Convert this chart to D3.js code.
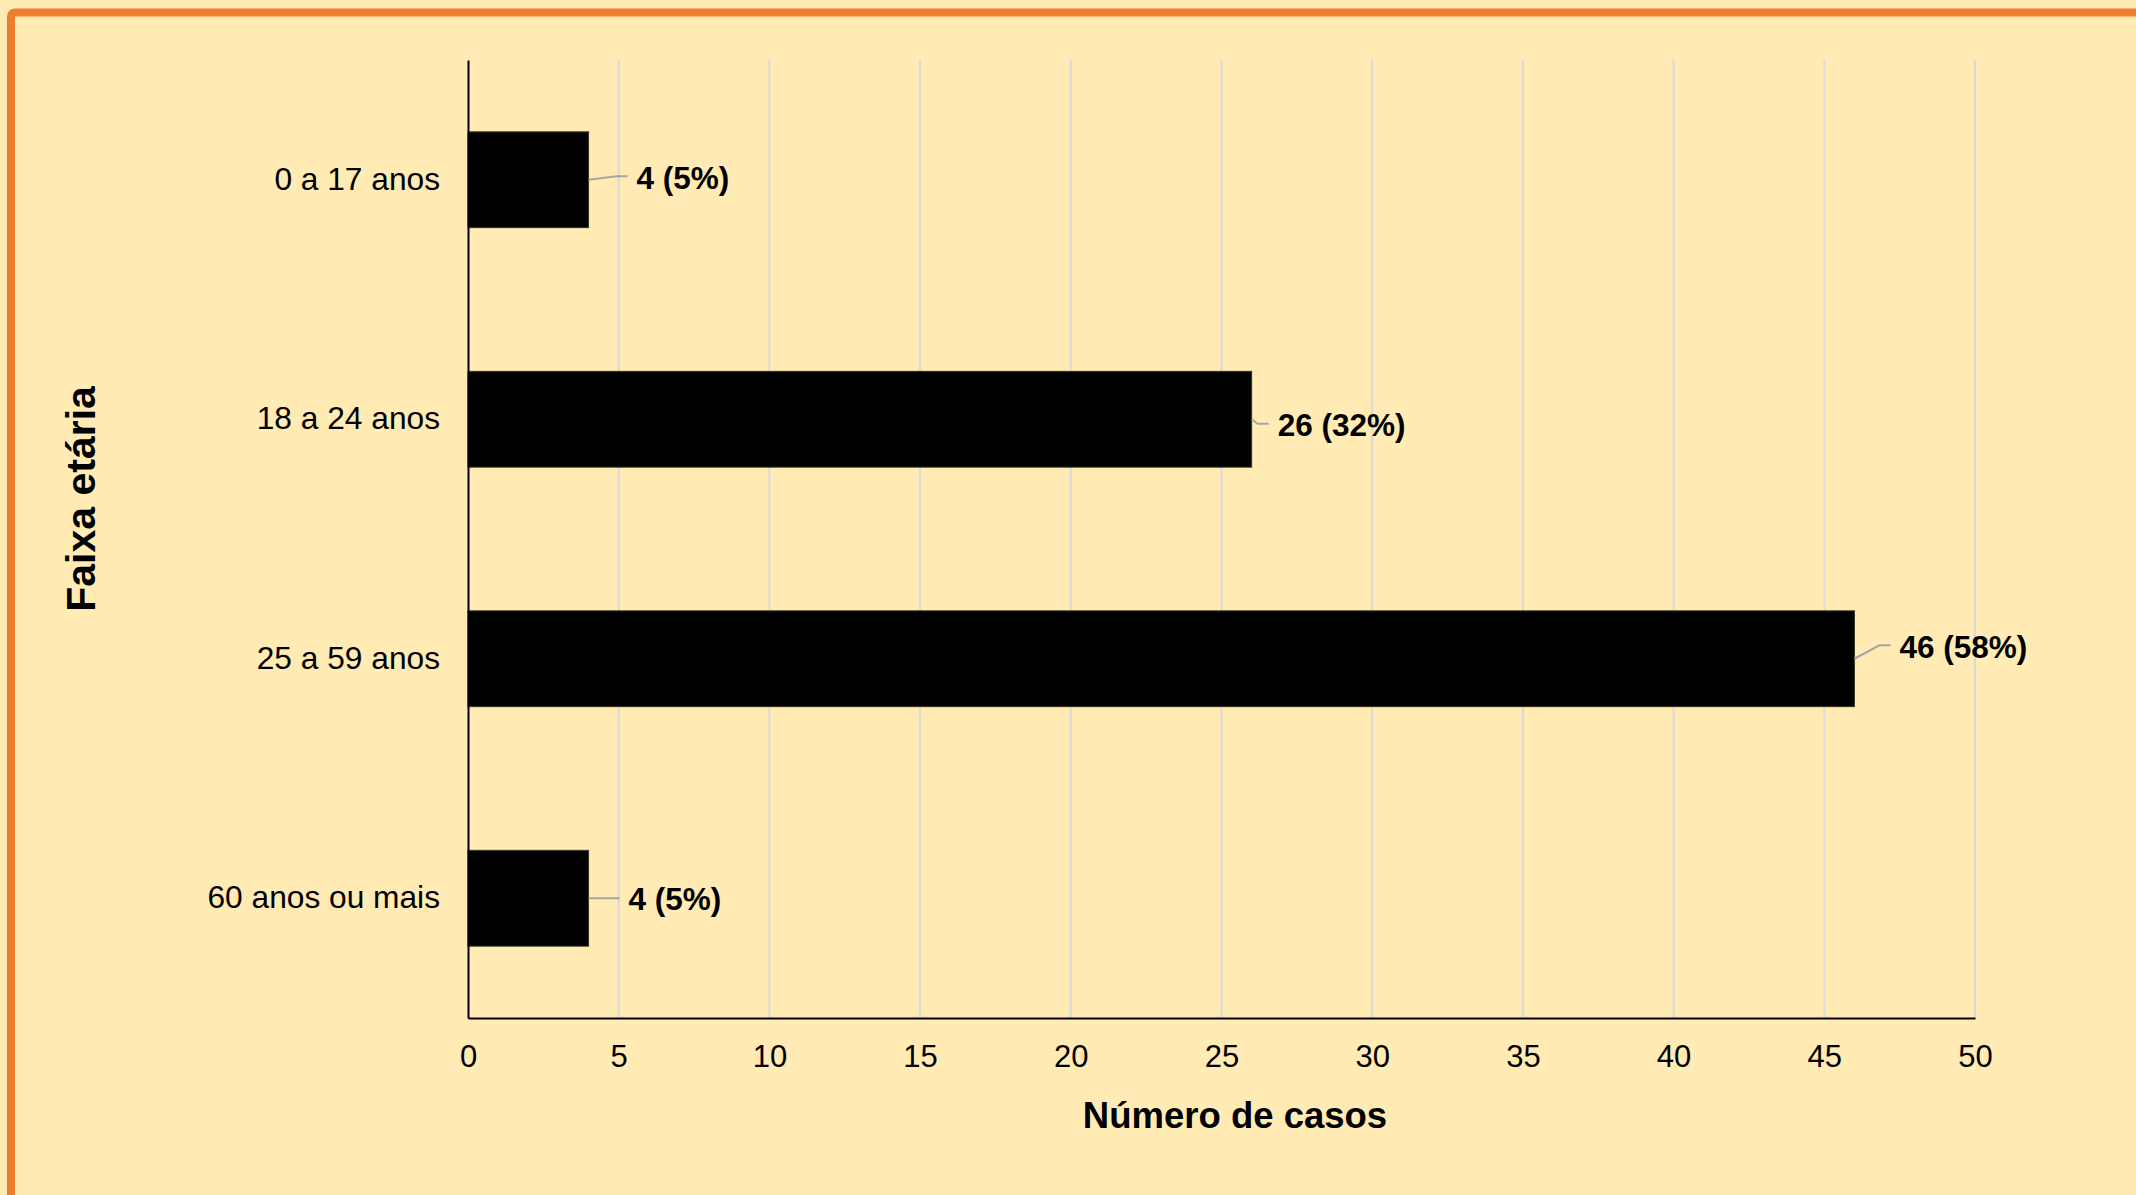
<!DOCTYPE html>
<html>
<head>
<meta charset="utf-8">
<script src="https://cdn.jsdelivr.net/npm/d3@7"></script>
<style>
	html, body { margin: 0; padding: 0; background: #FFEBB3; }
	svg { display: block; }
	text { font-family: "Liberation Sans", Arial, sans-serif; fill: #000; }
</style>
</head>
<body>
<svg width="2136" height="1195"></svg>
<script>

// faixa etaria, de cima para baixo
var categories = ["0 a 17 anos", "18 a 24 anos", "25 a 59 anos", "60 anos ou mais"];
var casos = [4, 26, 46, 4];
var percentuais = ["5%", "32%", "58%", "5%"];
var xTicks = [0, 5, 10, 15, 20, 25, 30, 35, 40, 45, 50];

// deslocamento manual dos rotulos (como foram arrastados no original)
var labelNudge = [[48, 9], [26, 17], [45, -1], [40, 12]];

var svg = d3.select("svg"),
	width = +svg.attr("width"),
	height = +svg.attr("height");

var margin = { top: 60, right: 161, bottom: 177, left: 468 };

// moldura laranja
svg.append("rect")
	.attr("x", 11)
	.attr("y", 12.5)
	.attr("width", width + 40)
	.attr("height", height + 40)
	.attr("rx", 4)
	.attr("fill", "#FFEBB3")
	.attr("stroke", "#ED7D31")
	.attr("stroke-width", 8);

var x = d3.scaleLinear()
	.domain([0, 50])
	.range([margin.left, width - margin.right]);

var y = d3.scaleBand()
	.domain(categories)
	.range([margin.top, height - margin.bottom])
	.paddingInner(0.6)
	.paddingOuter(0.3);

// grade vertical
svg.append("g")
	.attr("class", "grid")
	.selectAll("line")
	.data(xTicks.slice(1))
	.enter().append("line")
	.attr("x1", function (d) { return x(d); })
	.attr("x2", function (d) { return x(d); })
	.attr("y1", margin.top)
	.attr("y2", height - margin.bottom)
	.attr("stroke", "#D9DADB")
	.attr("stroke-width", 2);

// barras
svg.append("g")
	.attr("class", "bars")
	.selectAll("rect")
	.data(casos)
	.enter().append("rect")
	.attr("x", x(0))
	.attr("y", function (d, i) { return y(categories[i]); })
	.attr("width", function (d) { return x(d) - x(0); })
	.attr("height", y.bandwidth())
	.attr("fill", "#000")
	.attr("stroke", "#3a3320")
	.attr("stroke-width", 1);

// eixo x
var xAxis = svg.append("g")
	.attr("transform", "translate(0," + (height - margin.bottom) + ")")
	.call(d3.axisBottom(x).tickValues(xTicks).tickSize(0).tickPadding(27));

xAxis.select(".domain").attr("stroke", "#000").attr("stroke-width", 2);
xAxis.selectAll("text")
	.style("font-family", "'Liberation Sans', Arial, sans-serif")
	.style("font-size", "31px")
	.attr("fill", "#000");

// eixo y
var yAxis = svg.append("g")
	.attr("transform", "translate(" + margin.left + ",0)")
	.call(d3.axisLeft(y).tickSize(0).tickPadding(28));

yAxis.select(".domain").attr("stroke", "#000").attr("stroke-width", 2);
yAxis.selectAll("text")
	.style("font-family", "'Liberation Sans', Arial, sans-serif")
	.style("font-size", "31.7px")
	.attr("fill", "#000");

// linhas de chamada e rotulos
var labels = svg.append("g").attr("class", "labels");

casos.forEach(function (d, i) {
	var x0 = x(d),
		yc = y(categories[i]) + y.bandwidth() / 2,
		tx = x0 + labelNudge[i][0],
		ty = yc + labelNudge[i][1],
		ly = ty - 12.5;

	var pts = [[x0, yc], [tx - 20, ly], [tx - 9, ly]];
	if (Math.abs(ly - yc) < 2) pts = [[x0, yc], [tx - 9, yc]];

	labels.append("path")
		.attr("d", d3.line()(pts))
		.attr("fill", "none")
		.attr("stroke", "#A5A5A5")
		.attr("stroke-width", 2);

	labels.append("text")
		.attr("x", tx)
		.attr("y", ty)
		.style("font-size", "31.5px")
		.style("font-weight", "bold")
		.text(d + " (" + percentuais[i] + ")");
});

// titulos dos eixos
svg.append("text")
	.attr("x", 1235)
	.attr("y", 1128)
	.attr("text-anchor", "middle")
	.style("font-size", "36.5px")
	.style("font-weight", "bold")
	.text("Número de casos");

svg.append("text")
	.attr("transform", "translate(95,499) rotate(-90)")
	.attr("text-anchor", "middle")
	.style("font-size", "41px")
	.style("font-weight", "bold")
	.text("Faixa etária");

</script>
</body>
</html>
